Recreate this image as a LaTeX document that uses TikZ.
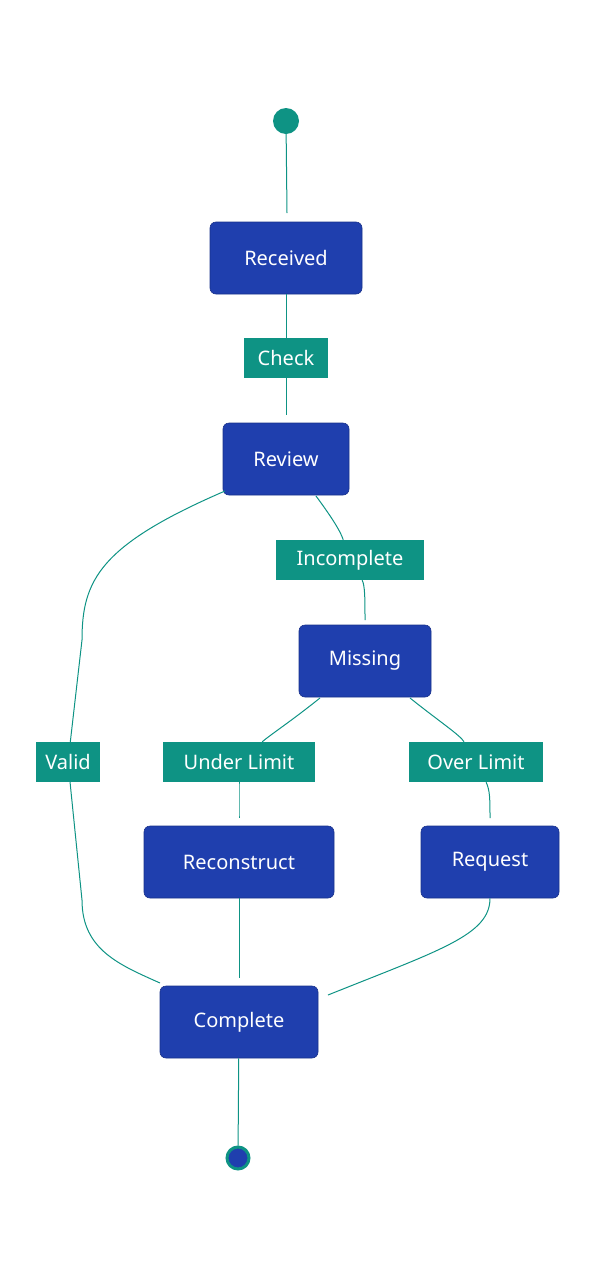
\documentclass[tikz,border=0pt]{standalone}
\usepackage{fontspec}
\setmainfont{Noto Sans}
\definecolor{nb}{HTML}{1F3FAE}
\definecolor{tl}{HTML}{0E9384}
\begin{document}
\begin{tikzpicture}[x=1pt,y=-1pt,
 st/.style={draw=nb!80!black,line width=0.6pt,fill=nb,rounded corners=6pt,text=white,font=\fontsize{20}{24}\selectfont,minimum height=72pt,inner sep=0pt},
 lb/.style={fill=tl,text=white,font=\fontsize{20}{24}\selectfont,minimum height=40pt,inner sep=0pt},
 ed/.style={draw=tl,line width=1pt}]
\useasboundingbox (0,0) rectangle (608,1280);
\node[circle,fill=tl,minimum size=26pt,inner sep=0pt] (s) at (286,121) {};
\node[st,minimum width=152pt] (rc) at (286,258) {Received};
\node[st,minimum width=126pt] (rv) at (286,459) {Review};
\node[st,minimum width=132pt] (mi) at (365,661) {Missing};
\node[st,minimum width=190pt] (rn) at (239,862) {Reconstruct};
\node[st,minimum width=138pt] (rq) at (490,862) {Request};
\node[st,minimum width=158pt] (co) at (239,1022) {Complete};
\node[circle,fill=nb,draw=tl,line width=3pt,minimum size=22pt,inner sep=0pt] (e) at (238,1158) {};
\node[lb,minimum width=84pt] (lc) at (286,358) {Check};
\node[lb,minimum width=148pt] (li) at (350,560) {Incomplete};
\node[lb,minimum width=64pt] (lv) at (68,762) {Valid};
\node[lb,minimum width=152pt] (lu) at (239,762) {Under Limit};
\node[lb,minimum width=134pt] (lo) at (476,762) {Over Limit};
\coordinate (ve) at (160,983);
\coordinate (qe) at (328,995);
\draw[ed] (s) -- (287,213);
\draw[ed] (rc) -- (lc) -- (286,415);
\draw[ed] (225,491) .. controls (100,545) and (82,580) .. (82,640) -- (lv) -- (82,900) .. controls (82,950) and (120,965) .. (ve);
\draw[ed] (316,496) .. controls (330,515) and (340,530) .. (li);
\draw[ed] (li) .. controls (365,585) and (365,600) .. (365,620);
\draw[ed] (320,698) .. controls (290,722) and (270,735) .. (lu);
\draw[ed] (lu) .. controls (239,790) and (239,800) .. (239,818);
\draw[ed] (410,698) .. controls (440,722) and (460,735) .. (lo);
\draw[ed] (lo) .. controls (490,790) and (490,800) .. (490,818);
\draw[ed] (rn) -- (239,978);
\draw[ed] (rq) .. controls (490,935) and (440,950) .. (qe);
\draw[ed] (co) -- (e);
\end{tikzpicture}
\end{document}
